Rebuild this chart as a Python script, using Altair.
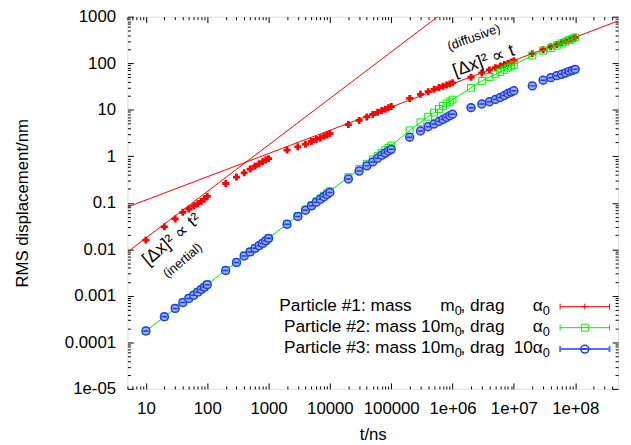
import altair as alt
import pandas as pd

# ---------------- data ----------------
T = [10, 20, 30, 40, 50, 60, 70, 80, 90, 100,
     200, 300, 400, 500, 600, 700, 800, 900, 1000,
     2000, 3000, 4000, 5000, 6000, 7000, 8000, 9000, 10000,
     20000, 30000, 40000, 50000, 60000, 70000, 80000, 90000, 100000,
     2e5, 3e5, 4e5, 5e5, 6e5, 7e5, 8e5, 9e5, 1e6,
     2e6, 3e6, 4e6, 5e6, 6e6, 7e6, 8e6, 9e6, 1e7,
     2e7, 3e7, 4e7, 5e7, 6e7, 7e7, 8e7, 9e7, 1e8]

RED = [0.0158, 0.0305, 0.045, 0.0625, 0.0735, 0.085, 0.0955, 0.107, 0.12, 0.137,
       0.26, 0.358, 0.44, 0.53, 0.61, 0.69, 0.76, 0.84, 0.89,
       1.36, 1.6, 1.82, 2.08, 2.3, 2.48, 2.7, 2.88, 3.07,
       4.8, 5.9, 7.0, 7.9, 8.8, 9.6, 10.3, 11.0, 11.7,
       17.5, 21.5, 24.5, 27.5, 30, 32, 34, 36, 38,
       50, 62, 72, 80, 87, 94, 100.5, 107, 113,
       160, 195, 226, 252, 278, 300, 320, 340, 358]

GREEN = [1.75e-4, 3.56e-4, 5.37e-4, 7.2e-4, 8.8e-4, 1.03e-3, 1.21e-3, 1.38e-3, 1.55e-3, 1.76e-3,
         3.55e-3, 5.25e-3, 7.3e-3, 8.85e-3, 0.0106, 0.012, 0.0135, 0.0154, 0.0175,
         0.0348, 0.0522, 0.0713, 0.088, 0.107, 0.124, 0.142, 0.16, 0.177,
         0.355, 0.53, 0.69, 0.86, 1.02, 1.19, 1.35, 1.52, 1.7,
         3.6, 5.35, 7.1, 8.7, 10.4, 12.1, 13.6, 14.9, 16.5,
         29.6, 41.7, 50.7, 57.8, 64.7, 72.4, 79.8, 85.5, 92.5,
         146.5, 187, 212, 239, 267, 290, 314, 336, 358]

BLUE = [1.75e-4, 3.56e-4, 5.37e-4, 7.2e-4, 8.8e-4, 1.03e-3, 1.2e-3, 1.37e-3, 1.54e-3, 1.74e-3,
        3.5e-3, 5.2e-3, 7.2e-3, 8.8e-3, 0.0105, 0.0119, 0.0134, 0.0152, 0.0172,
        0.0345, 0.051, 0.069, 0.086, 0.103, 0.119, 0.135, 0.151, 0.166,
        0.325, 0.481, 0.622, 0.757, 0.908, 1.05, 1.17, 1.30, 1.41,
        2.57, 3.5, 4.3, 4.95, 5.6, 6.2, 6.8, 7.45, 8.0,
        11.1, 13.3, 14.9, 16.7, 18.4, 20.3, 22.4, 24, 25.6,
        32.6, 43.2, 49, 54, 57.8, 61.7, 67, 70.3, 73.8]

# guide lines (end points)
DIFF_T = [5, 5e8]
DIFF_Y = [0.081, 810]
INERT_T = [5, 1e6]
INERT_Y = [0.00875, 1750]

X_MAJOR = [10, 100, 1000, 10000, 100000, 1e6, 1e7, 1e8]
Y_MAJOR = [1e-5, 1e-4, 1e-3, 0.01, 0.1, 1, 10, 100, 1000]
X_MINOR = [m * 10 ** e for e in range(0, 9) for m in range(2, 10) if 5 <= m * 10 ** e < 5e8]
Y_MINOR = [m * 10.0 ** e for e in range(-5, 3) for m in range(2, 10)]

# legend text pieces per row: (text, right edge column, subscript?)
LEGEND_ROWS = [
    [("Particle #1: mass", 288, False), ("m", 331.5, False), ("0", 338.7, True),
     (", drag", 382, False), ("\u03b1", 420.8, False), ("0", 428, True)],
    [("Particle #2: mass 10m", 331.5, False), ("0", 338.7, True),
     (", drag", 382, False), ("\u03b1", 420.8, False), ("0", 428, True)],
    [("Particle #3: mass 10m", 331.5, False), ("0", 338.7, True),
     (", drag", 382, False), ("10\u03b1", 420.8, False), ("0", 428, True)],
]

# ---------------- styling ----------------
W, H = 497, 377
FONT = "Liberation Sans"
RED_C, GREEN_C, BLUE_C = "#ff0000", "#00ee00", "#1a3cf0"
BLUE_PATH = "M-1,0A1,1,0,1,0,1,0A1,1,0,1,0,-1,0Z M-0.65,0L0.65,0"
PLUS_PATH = "M-1,0L1,0M0,-1L0,1"

XS = alt.Scale(type="log", domain=[5, 5e8], nice=False)
YS = alt.Scale(type="log", domain=[1e-5, 1000], nice=False)


def tick_axis(orient, values, size):
    return alt.Axis(orient=orient, values=values, tickSize=size, offset=-size,
                    labels=False, domain=False, grid=False, title=None,
                    ticks=True, tickColor="black", tickWidth=1)


x_main = alt.Axis(orient="bottom", values=X_MAJOR, ticks=False, domain=False, grid=False,
                  labelExpr="datum.value >= 1e6 ? '1e+0' + round(log(datum.value)/LN10) : '' + datum.value",
                  labelFont=FONT, labelFontSize=17, labelColor="black", labelPadding=12,
                  labelFlush=False, labelOverlap=False,
                  title="t/ns", titleFont=FONT, titleFontSize=17, titleFontWeight="normal",
                  titleColor="black", titleY=51, titleBaseline="alphabetic")
y_main = alt.Axis(orient="left", values=Y_MAJOR, ticks=False, domain=False, grid=False,
                  labelExpr="datum.value < 5e-5 ? '1e-05' : '' + datum.value",
                  labelFont=FONT, labelFontSize=17, labelColor="black", labelPadding=12,
                  labelFlush=False, labelOverlap=False,
                  title="RMS displacement/nm", titleFont=FONT, titleFontSize=17,
                  titleFontWeight="normal", titleColor="black", titleX=-106, titleY=H / 2,
                  titleAngle=270, titleAlign="center", titleBaseline="middle")

red_df = pd.DataFrame({"t": T, "v": RED})
green_df = pd.DataFrame({"t": T, "v": GREEN})
blue_df = pd.DataFrame({"t": T, "v": BLUE})
diff_df = pd.DataFrame({"t": DIFF_T, "v": DIFF_Y})
inert_df = pd.DataFrame({"t": INERT_T, "v": INERT_Y})


def enc(xaxis, yaxis):
    return dict(x=alt.X("t:Q", scale=XS, axis=xaxis), y=alt.Y("v:Q", scale=YS, axis=yaxis))


layers = []
layers.append(alt.Chart(diff_df).mark_line(color=RED_C, strokeWidth=1, clip=True)
              .encode(**enc(tick_axis("top", X_MAJOR, 6), tick_axis("right", Y_MAJOR, 6))))
layers.append(alt.Chart(inert_df).mark_line(color=RED_C, strokeWidth=1, clip=True)
              .encode(**enc(tick_axis("top", X_MINOR, 3), tick_axis("right", Y_MINOR, 3))))
layers.append(alt.Chart(red_df).mark_point(shape="cross", filled=True, size=50, color=RED_C, opacity=1)
              .encode(**enc(x_main, y_main)))
layers.append(alt.Chart(green_df).mark_line(color=GREEN_C, strokeWidth=1)
              .encode(**enc(tick_axis("bottom", X_MAJOR, 6), tick_axis("left", Y_MAJOR, 6))))
layers.append(alt.Chart(green_df).mark_point(shape="square", filled=False, size=49, color=GREEN_C,
                                             strokeWidth=1, opacity=1)
              .encode(**enc(tick_axis("bottom", X_MINOR, 3), tick_axis("left", Y_MINOR, 3))))
layers.append(alt.Chart(blue_df).mark_point(shape=BLUE_PATH, filled=True, size=64, fill="#9eaaf2",
                                            stroke=BLUE_C, strokeWidth=1.5, opacity=1)
              .encode(**enc(None, None)))

one = pd.DataFrame({"a": [0]})


# annotations
def note(txt, x, y, size, angle):
    return alt.Chart(one).mark_text(text=txt, font=FONT, fontSize=size, angle=angle, color="black",
                                    align="center", baseline="middle").encode(x=alt.value(x), y=alt.value(y))


layers.append(note("(diffusive)", 351, 21, 13, 340))
layers.append(note("[\u0394x]\u00b2 \u221d t", 361, 45, 18, 340))
layers.append(note("[\u0394x]\u00b2 \u221d t\u00b2", 45, 226, 18, 320))
layers.append(note("(inertial)", 56, 247, 13, 320))

# legend
ROW_BASE = [297.7, 319.3, 341]
ROW_MID = [293.7, 315, 336.7]
SX0, SX1, SXC = 438.3, 488.3, 463.3
row_colors = [RED_C, GREEN_C, "#5a6cff"]
for i, row in enumerate(LEGEND_ROWS):
    for txt, xr, sub in row:
        layers.append(alt.Chart(one).mark_text(text=txt, font=FONT, fontSize=13 if sub else 17.5,
                                               color="black", align="right", baseline="alphabetic")
                      .encode(x=alt.value(xr), y=alt.value(ROW_BASE[i] + (4 if sub else 0))))
    c = row_colors[i]
    sw = 2 if i == 2 else 1
    layers.append(alt.Chart(one).mark_rule(color=c, strokeWidth=sw)
                  .encode(x=alt.value(SX0), x2=alt.value(SX1), y=alt.value(ROW_MID[i])))
    for xx in (SX0, SX1):
        layers.append(alt.Chart(one).mark_rule(color=c, strokeWidth=sw)
                      .encode(x=alt.value(xx), y=alt.value(ROW_MID[i] - 3), y2=alt.value(ROW_MID[i] + 3)))
    if i == 0:
        sym = alt.Chart(one).mark_point(shape=PLUS_PATH, size=36, filled=False, color=RED_C,
                                        strokeWidth=1, opacity=1)
    elif i == 1:
        sym = alt.Chart(one).mark_point(shape="square", size=49, filled=False, color=GREEN_C,
                                        strokeWidth=1, opacity=1)
    else:
        sym = alt.Chart(one).mark_point(shape=BLUE_PATH, size=64, filled=False, color=BLUE_C,
                                        strokeWidth=1.5, opacity=1)
    layers.append(sym.encode(x=alt.value(SXC), y=alt.value(ROW_MID[i])))

chart = (alt.layer(*layers)
         .resolve_axis(x="independent", y="independent")
         .properties(width=W, height=H, autosize=alt.AutoSizeParams(type="none"),
                     padding={"left": 121, "top": 6, "right": 5, "bottom": 52})
         .configure_view(stroke="black", strokeWidth=1)
         .configure(background="white"))

chart.save("out.html", embed_options={"renderer": "svg", "actions": False})
